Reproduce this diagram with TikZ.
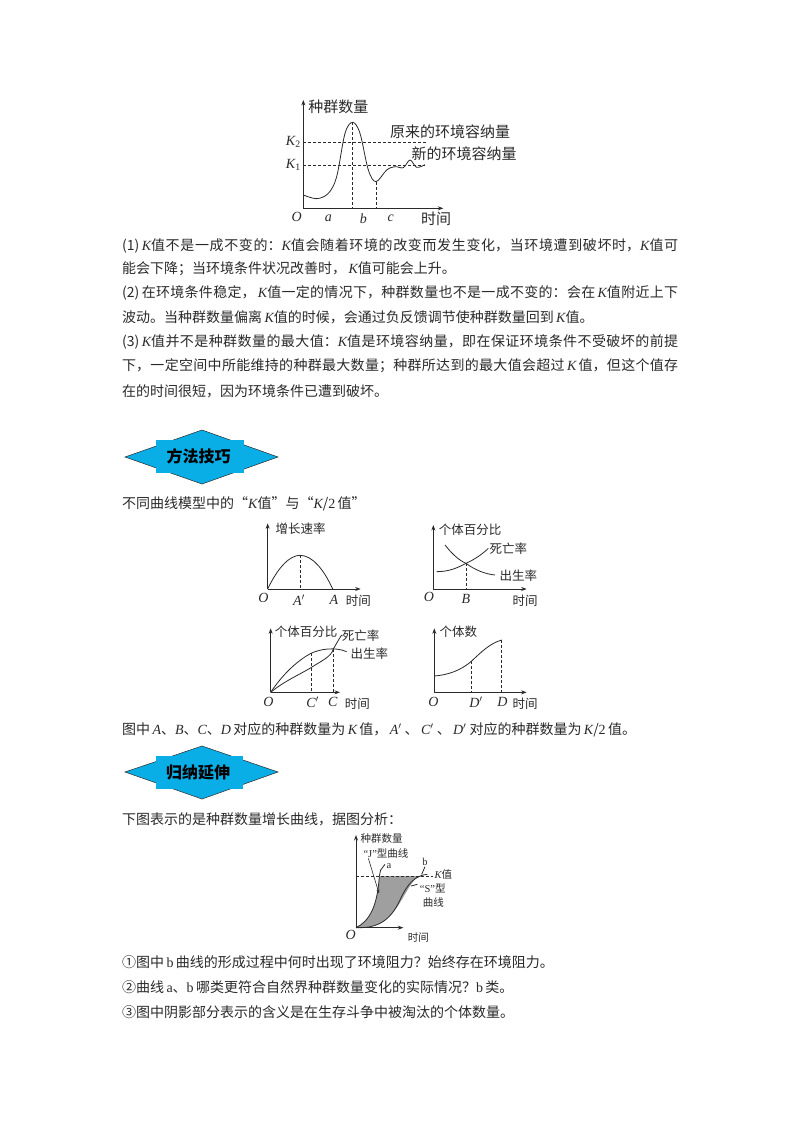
\documentclass[tikz,border=0pt]{standalone}
\usepackage{fontspec}
\setmainfont{Noto Sans CJK SC}[Scale=1]
\newfontfamily\lat{Liberation Serif}
\newcommand\vi[1]{{\lat\itshape #1}}
\newcommand\vr[1]{{\lat #1}}
\newcommand\qo{{\lat “}}
\newcommand\qc{{\lat ”}}
\XeTeXlinebreaklocale "zh"
\XeTeXlinebreakskip=0pt plus 3pt
\tolerance=9999
\usetikzlibrary{arrows.meta}
\definecolor{ink}{HTML}{2A2A2A}
\definecolor{dia}{HTML}{0AAEE6}
\tikzset{
  body/.style={anchor=west,inner sep=0pt,text=ink,font=\fontsize{14}{16}\selectfont},
  full/.style={body,text width=556pt,align=justify},
  big/.style={inner sep=0pt,text=ink,font=\fontsize{15}{16}\selectfont},
  lab/.style={inner sep=0pt,text=ink,font=\fontsize{12.5}{14}\selectfont},
  small/.style={inner sep=0pt,text=ink,font=\fontsize{10.5}{12}\selectfont},
  letter/.style={inner sep=0pt,text=ink,font=\lat\itshape\fontsize{14}{15}\selectfont},
  axis/.style={draw=ink,line width=0.9pt,-{Stealth[length=5.5pt,width=4pt]}},
  curve/.style={draw=ink,line width=0.8pt},
  guide/.style={draw=ink,line width=0.7pt,dash pattern=on 3pt off 2pt},
  badge/.style={fill=dia,draw=ink,line width=0.5pt},
  badgerect/.style={fill=dia,draw=none},
  badgetext/.style={inner sep=0pt,text=black,font=\bfseries\fontsize{16}{18}\selectfont}
}
\newcommand\fl[1]{{\parfillskip=0pt #1\par}}
\begin{document}
\begin{tikzpicture}[x=1pt,y=-1pt]
\useasboundingbox (0,0) rectangle (800,1132);
\fill[white] (0,0) rectangle (800,1132);

% chart 1
\begin{scope}[xshift=270pt,yshift=-90pt,x=0.33333pt,y=-0.33333pt]
\coordinate (o1) at (100,355);
\coordinate (y1) at (100,30);
\coordinate (x1) at (520,355);
\draw[axis] (o1) -- (y1);
\draw[axis] (o1) -- (x1);
\draw[guide] (100,157) -- (470,157);
\draw[guide] (100,226) -- (465,226);
\draw[guide] (248,97) -- (248,355);
\draw[guide] (318,275) -- (318,355);
\draw[curve] plot[smooth,tension=0.55] coordinates {(100,315) (140,326) (175,310) (200,260) (225,130) (248,97) (270,130) (295,240) (318,275) (350,240) (375,230) (400,233) (420,210) (440,232) (465,224)};
\node[big] (c1a) at (205,50) {种群数量};
\node[letter] (c1b) at (70,157) {K\textsubscript{\upshape 2}};
\node[letter] (c1c) at (70,224) {K\textsubscript{\upshape 1}};
\node[letter] (c1d) at (80,380) {O};
\node[letter] (c1e) at (175,385) {a};
\node[letter] (c1f) at (280,385) {b};
\node[letter] (c1g) at (362,385) {c};
\node[big] (c1h) at (498,388) {时间};
\node[big] (c1i) at (540,125) {原来的环境容纳量};
\node[big] (c1j) at (582,190) {新的环境容纳量};
\end{scope}

% text block 1
\node[full] (t1) at (122,246) {\fl{(1)\,\vi{K}值不是一成不变的：\vi{K}值会随着环境的改变而发生变化，当环境遭到破坏时，\vi{K}值可}};
\node[body] (t2) at (122,269) {能会下降；当环境条件状况改善时，\,\vi{K}值可能会上升。};
\node[full] (t3) at (122,293) {\fl{(2)\,在环境条件稳定，\,\vi{K}值一定的情况下，种群数量也不是一成不变的：会在\,\vi{K}值附近上下}};
\node[body] (t4) at (122,317) {波动。当种群数量偏离\,\vi{K}值的时候，会通过负反馈调节使种群数量回到\,\vi{K}值。};
\node[full] (t5) at (122,342) {\fl{(3)\,\vi{K}值并不是种群数量的最大值：\vi{K}值是环境容纳量，即在保证环境条件不受破坏的前提}};
\node[full] (t6) at (122,366) {\fl{下，一定空间中所能维持的种群最大数量；种群所达到的最大值会超过\,\vi{K}\,值，但这个值存}};
\node[body] (t7) at (122,391) {在的时间很短，因为环境条件已遭到破坏。};

% badge 1
\draw[badge] (125,457) -- (202,430) -- (278,457) -- (202,484) -- cycle;
\fill[badgerect] (156,440) rectangle (244,473);
\node[badgetext] (b1) at (198.5,456) {方法技巧};

\node[body] (t8) at (122,504) {不同曲线模型中的“\vi{K}值”与“\vi{K}/\vr{2}\,值”};

% chart 2
\begin{scope}[xshift=110pt,yshift=-430pt,x=0.33333pt,y=-0.33333pt]
\coordinate (o2) at (473,477);
\draw[axis] (o2) -- (473,280);
\draw[axis] (o2) -- (752,477);
\draw[guide] (570,376) -- (570,477);
\draw[curve] (o2) .. controls (505,410) and (540,376) .. (570,376) .. controls (605,376) and (640,415) .. (668,477);
\node[lab] (c2a) at (572,297) {增长速率};
\node[letter] (c2b) at (460,503) {O};
\node[letter] (c2c) at (567,510) {A$'$};
\node[letter] (c2d) at (672,510) {A};
\node[lab] (c2e) at (745,512) {时间};
\end{scope}

% chart 3
\begin{scope}[xshift=410pt,yshift=-510pt,x=0.33333pt,y=-0.33333pt]
\coordinate (o3) at (70,237);
\draw[axis] (o3) -- (70,45);
\draw[axis] (o3) -- (350,237);
\draw[guide] (168,160) -- (168,237);
\draw[curve] (80,185) .. controls (115,185) and (140,175) .. (168,160) .. controls (195,148) and (220,130) .. (235,115);
\draw[curve] (105,105) .. controls (125,130) and (145,150) .. (168,160) .. controls (195,180) and (225,192) .. (255,195);
\node[lab] (c3a) at (180,60) {个体百分比};
\node[lab] (c3b) at (295,115) {死亡率};
\node[lab] (c3c) at (325,197) {出生率};
\node[letter] (c3d) at (57,262) {O};
\node[letter] (c3e) at (168,267) {B};
\node[lab] (c3f) at (345,272) {时间};
\end{scope}

% charts 4, 5
\begin{scope}[xshift=250pt,yshift=-615pt,x=0.33333pt,y=-0.33333pt]
\coordinate (o4) at (62,232);
\draw[axis] (o4) -- (62,40);
\draw[axis] (o4) -- (270,232);
\draw[guide] (183,115) -- (183,232);
\draw[guide] (250,102) -- (250,232);
\draw[curve] (o4) .. controls (100,175) and (145,135) .. (183,115) .. controls (210,102) and (255,95) .. (290,110);
\draw[curve] (o4) .. controls (100,200) and (150,178) .. (183,158) .. controls (210,140) and (245,125) .. (250,102) .. controls (258,88) and (265,75) .. (275,60);
\node[lab] (c4a) at (168,50) {个体百分比};
\node[lab] (c4b) at (332,62) {死亡率};
\node[lab] (c4c) at (358,115) {出生率};
\node[letter] (c4d) at (55,260) {O};
\node[letter] (c4e) at (188,262) {C$'$};
\node[letter] (c4f) at (248,262) {C};
\node[lab] (c4g) at (322,265) {时间};

\coordinate (o5) at (553,232);
\draw[axis] (o5) -- (553,40);
\draw[axis] (o5) -- (830,232);
\draw[guide] (665,138) -- (665,232);
\draw[guide] (755,75) -- (755,232);
\draw[curve] (553,183) .. controls (595,180) and (635,165) .. (665,138) .. controls (695,110) and (720,85) .. (755,75);
\node[lab] (c5a) at (625,50) {个体数};
\node[letter] (c5b) at (550,262) {O};
\node[letter] (c5c) at (678,262) {D$'$};
\node[letter] (c5d) at (757,262) {D};
\node[lab] (c5e) at (825,265) {时间};
\end{scope}

\node[body] (t9) at (122,730) {图中\,\vi{A}、\vi{B}、\vi{C}、\vi{D}\,对应的种群数量为\,\vi{K}\,值，\,\vi{A}$'$\ 、\,\vi{C}$'$\ 、\,\vi{D}$'$\ 对应的种群数量为\,\vi{K}/\vr{2}\,值。};

% badge 2
\draw[badge] (125,772) -- (202,746) -- (278,772) -- (202,799) -- cycle;
\fill[badgerect] (156,756) rectangle (243,789);
\node[badgetext] (b2) at (198,772) {归纳延伸};

\node[body] (t10) at (122,819) {下图表示的是种群数量增长曲线，据图分析：};

% chart 6
\begin{scope}[xshift=340pt,yshift=-825pt,x=0.33333pt,y=-0.33333pt]
\coordinate (o6) at (48,308);
\fill[gray!75] (o6) .. controls (85,290) and (112,250) .. (118,153) -- (245,153) -- (225,163) .. controls (190,200) and (165,300) .. (80,306) -- cycle;
\draw[axis] (o6) -- (48,30);
\draw[axis] (o6) -- (190,308);
\draw[guide] (48,153) -- (280,153);
\draw[curve] (o6) .. controls (85,290) and (112,250) .. (118,153) -- (122,135);
\draw[curve] (o6) .. controls (110,310) and (150,290) .. (180,225) .. controls (200,180) and (225,150) .. (262,148);
\draw[curve] (122,135) -- (135,118);
\draw[curve] (245,148) -- (255,125);
\draw[curve] (213,183) -- (232,178);
\draw[draw=ink,line width=0.6pt,-{Stealth[length=4pt,width=3pt]}] (85,100) -- (117,205);
\node[small] (c6a) at (125,42) {种群数量};
\node[small] (c6b) at (138,84) {\qo{}{\lat J}\qc{}型曲线};
\node[small] (c6c) at (147,122) {\vr{a}};
\node[small] (c6d) at (255,112) {\vr{b}};
\node[small] (c6e) at (310,148) {\vi{K}值};
\node[small] (c6f) at (278,190) {\qo{}{\lat S}\qc{}型};
\node[small] (c6g) at (280,232) {曲线};
\node[letter] (c6h) at (32,330) {O};
\node[small] (c6i) at (235,338) {时间};
\end{scope}

\node[body] (t11) at (122,962) {①图中\,\vr{b}\,曲线的形成过程中何时出现了环境阻力？始终存在环境阻力。};
\node[body] (t12) at (122,987) {②曲线\,\vr{a}、\vr{b}\,哪类更符合自然界种群数量变化的实际情况？\vr{b}\,类。};
\node[body] (t13) at (122,1012) {③图中阴影部分表示的含义是在生存斗争中被淘汰的个体数量。};
\end{tikzpicture}
\end{document}
